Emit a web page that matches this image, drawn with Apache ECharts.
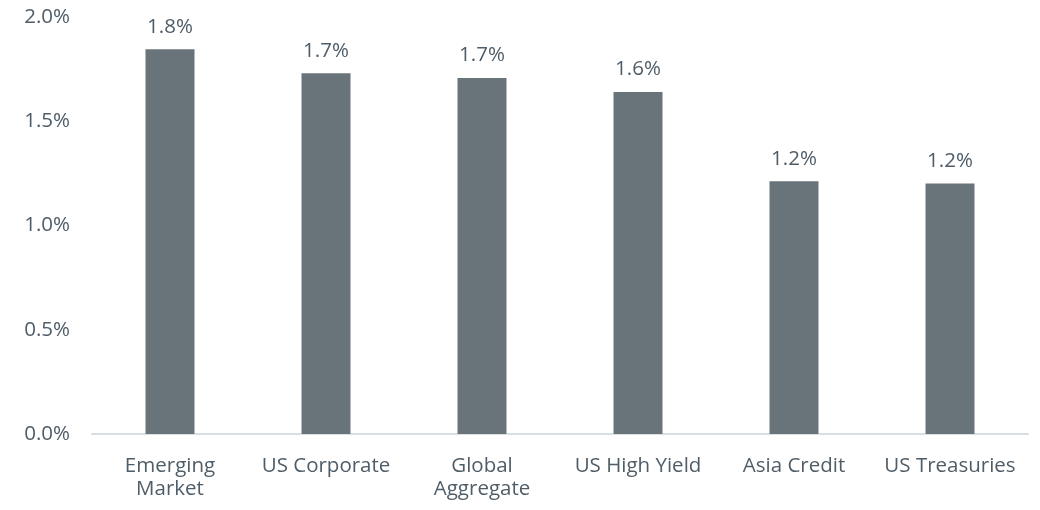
<!DOCTYPE html>
<html><head><meta charset="utf-8">
<script src="https://cdn.jsdelivr.net/npm/echarts@6/dist/echarts.min.js"></script>
<style>html,body{margin:0;padding:0;background:#fff}#c{width:1040px;height:510px}</style>
</head><body><div id="c"></div>
<script>
const categories = ['Emerging\nMarket', 'US Corporate', 'Global\nAggregate', 'US High Yield', 'Asia Credit', 'US Treasuries'];
const values = [1.845, 1.73, 1.707, 1.64, 1.212, 1.202];
const yTicks = [0, 0.5, 1.0, 1.5, 2.0];

const textColor = '#4f5d68';
const chart = echarts.init(document.getElementById('c'));
chart.setOption({
  animation: false,
  grid: {left: 92, right: 12, top: 17, bottom: 76},
  xAxis: {
    type: 'category', data: categories,
    axisLine: {lineStyle: {color: '#d8dee2', width: 2}},
    axisTick: {show: false},
    axisLabel: {color: textColor, fontFamily: 'Open Sans', fontSize: 20.5, lineHeight: 23, margin: 21, interval: 0}
  },
  yAxis: {
    type: 'value', min: 0, max: 2.0, interval: 0.5,
    splitLine: {show: false},
    axisLine: {show: false}, axisTick: {show: false},
    axisLabel: {color: textColor, fontFamily: 'Open Sans', fontSize: 20.5, margin: 22,
      formatter: v => v.toFixed(1) + '%'}
  },
  series: [{
    type: 'bar', data: values, barWidth: 49,
    itemStyle: {color: '#68737a'},
    label: {show: true, position: 'top', distance: 12, color: textColor,
      fontFamily: 'Open Sans', fontSize: 20.5, formatter: p => p.value.toFixed(1) + '%'}
  }]
});
</script></body></html>
